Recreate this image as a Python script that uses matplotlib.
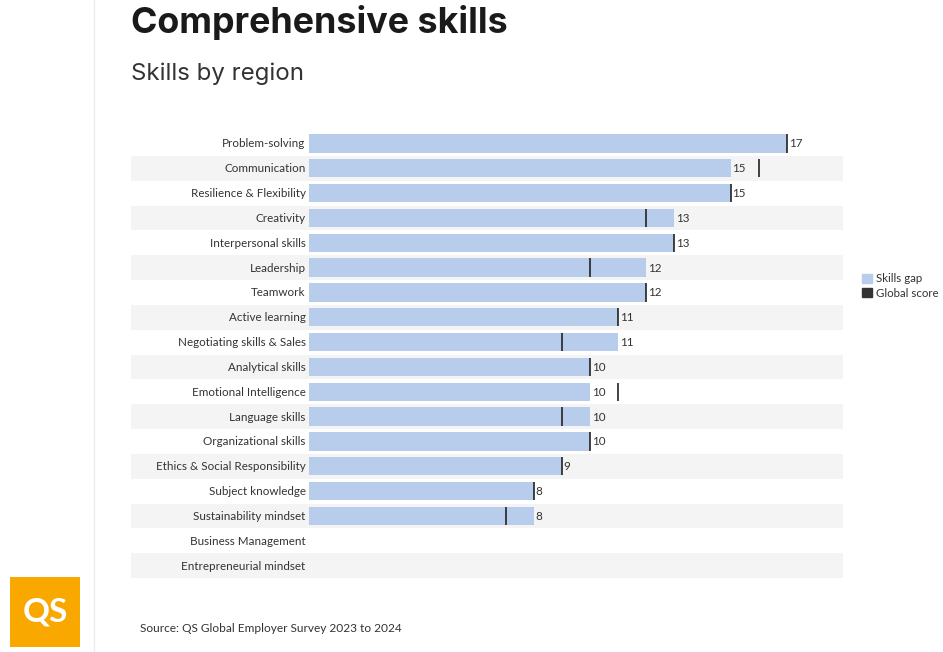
import matplotlib
matplotlib.use("Agg")
import matplotlib.pyplot as plt
from matplotlib.patches import Rectangle, Patch
from matplotlib.lines import Line2D

skills = ["Problem-solving", "Communication", "Resilience & Flexibility", "Creativity",
          "Interpersonal skills", "Leadership", "Teamwork", "Active learning",
          "Negotiating skills & Sales", "Analytical skills", "Emotional Intelligence",
          "Language skills", "Organizational skills", "Ethics & Social Responsibility",
          "Subject knowledge", "Sustainability mindset", "Business Management",
          "Entrepreneurial mindset"]
skills_gap = [17, 15, 15, 13, 13, 12, 12, 11, 11, 10, 10, 10, 10, 9, 8, 8, None, None]
global_score = [17, 16, 15, 12, 13, 10, 12, 11, 9, 10, 11, 9, 10, 9, 8, 7, None, None]

W, H = 943, 652
BAR = "#b8cdeb"
STRIPE = "#f4f4f4"
INK = "#333333"
BODY = ["Lato", "DejaVu Sans"]
plt.rcParams["font.family"] = ["Inter", "DejaVu Sans"]

fig = plt.figure(figsize=(W / 100, H / 100), dpi=100, facecolor="white")
ax = fig.add_axes([309 / W, 1 - 578 / H, (843 - 309) / W, (578 - 131) / H])
ax.set_xlim(0, 19)
ax.set_ylim(len(skills) - 0.5, -0.5)
ax.axis("off")

left_frac = (131 - 309) / (843 - 309)
for i, name in enumerate(skills):
    if i % 2 == 1:
        ax.add_patch(Rectangle((left_frac, i - 0.5), 1 - left_frac, 1,
                               transform=ax.get_yaxis_transform(), facecolor=STRIPE,
                               edgecolor="none", clip_on=False, zorder=0))
    ax.annotate(name, xy=(0, i), xytext=(-2.5, -0.4), textcoords="offset points",
                ha="right", va="center", fontsize=8.4, color=INK, family=BODY, annotation_clip=False)

for i, (g, s) in enumerate(zip(skills_gap, global_score)):
    if g is None:
        continue
    ax.barh(i, g, height=0.74, color=BAR, zorder=2)
    ax.plot([s, s], [i - 0.37, i + 0.37], color="#222222", lw=1.2, zorder=3, solid_capstyle="butt")
    ax.annotate(str(g), xy=(g, i), xytext=(1.3, -0.4), textcoords="offset points",
                ha="left", va="center", fontsize=8.4, color=INK, family=BODY)

ax.legend(handles=[Patch(color=BAR, label="Skills gap"), Patch(color="#333333", label="Global score")],
          loc="center left", bbox_to_anchor=(862 / W, 1 - 286 / H), bbox_transform=fig.transFigure,
          frameon=False, prop={"family": BODY, "size": 8.3}, labelcolor=INK, handlelength=0.85, handleheight=0.85,
          handletextpad=0.4, labelspacing=0.3, borderpad=0, borderaxespad=0)

fig.text(131 / W, 1 - 23 / H, "Comprehensive skills", fontsize=25.8, fontweight="bold",
         color="#1a1a1a", va="center", ha="left")
fig.text(131 / W, 1 - 74 / H, "Skills by region", fontsize=17.3, color=INK, va="center", ha="left")
fig.text(140 / W, 1 - 629 / H, "Source: QS Global Employer Survey 2023 to 2024", fontsize=8.6,
         color=INK, va="center", ha="left", family=BODY)

fig.add_artist(Line2D([94 / W, 94 / W], [0, 1], color="#ececec", lw=1))
fig.add_artist(Rectangle((10 / W, 1 - 647 / H), 70 / W, 70 / H, transform=fig.transFigure,
                         facecolor="#f9a800", edgecolor="none"))
fig.text(45 / W, 1 - 612 / H, "QS", fontsize=24, fontweight="bold", color="white", ha="center", va="center",
         family=["Lato", "DejaVu Sans"])

fig.savefig("out.png", dpi=100)
